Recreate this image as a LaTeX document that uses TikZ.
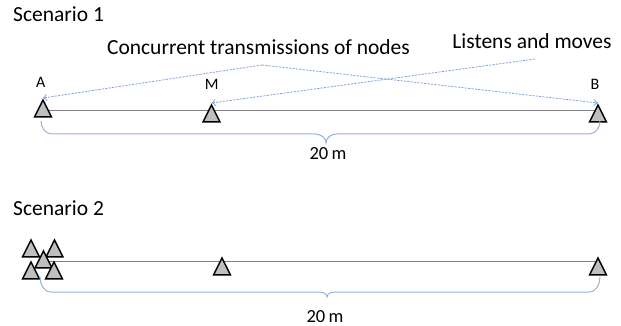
\documentclass[tikz,border=0pt]{standalone}
\usepackage{fontspec}
\setmainfont{Carlito}
\usetikzlibrary{shapes.geometric,arrows.meta}
\definecolor{dashblue}{HTML}{7FA6DA}
\definecolor{braceblue}{HTML}{95B3D7}
\definecolor{trifill}{HTML}{BFBFBF}
\tikzset{
  tri/.style={draw=black, fill=trifill, line width=1.5pt, shape=isosceles triangle,
    isosceles triangle stretches=true, shape border rotate=90,
    minimum width=17pt, minimum height=17pt, inner sep=0pt, anchor=apex},
  baseline/.style={draw=gray, line width=0.9pt},
  dasharrow/.style={draw=dashblue, line width=0.8pt, dash pattern=on 2.2pt off 1.2pt,
    -{To[length=4pt,width=7pt]}},
  bracepath/.style={draw=braceblue, line width=1pt},
  big/.style={font=\fontsize{21.5}{24}\selectfont, inner sep=0pt, anchor=base},
  small/.style={font=\fontsize{16}{18}\selectfont, inner sep=0pt, anchor=base},
  dist/.style={font=\fontsize{18.5}{20}\selectfont, inner sep=0pt, anchor=base},
}
\begin{document}
\begin{tikzpicture}[x=1pt, y=-1pt]
\useasboundingbox (0,0) rectangle (621,326);

% ---------- Scenario 1 ----------
\node[big, anchor=base west] (s1) at (13,22) {Scenario 1};

\coordinate (l1a) at (43,110);
\coordinate (l1b) at (598,110);
\draw[baseline] (l1a) -- (l1b);

\node[tri] (A) at (43,98) {};
\node[tri] (M) at (211.5,103) {};
\node[tri] (B) at (598,103) {};

\node[small] (lA) at (40.7,88) {A};
\node[small] (lM) at (211.7,90) {M};
\node[small] (lB) at (595,90) {B};

\node[big] (conc) at (258.5,55) {Concurrent transmissions of nodes};
\node[big] (lis) at (532,49) {Listens and moves};

\coordinate (peak) at (262,65);
\coordinate (lstart) at (535,59);
\draw[dasharrow] (peak) -- (A.apex);
\draw[dasharrow] (peak) -- (B.apex);
\draw[dasharrow] (lstart) -- (M.apex);

\coordinate (b1l) at (41,121);
\coordinate (b1r) at (600,121);
\coordinate (b1t) at (326,143);
\draw[bracepath] (b1l) to[out=-90,in=180] (52,134) -- (315,134)
   to[out=0,in=90] (b1t) to[out=90,in=180] (337,134) -- (589,134)
   to[out=0,in=-90] (b1r);
\node[dist] (d1) at (328,159) {20\kern0.18em m};

% ---------- Scenario 2 ----------
\node[big, anchor=base west] (s2) at (13,215) {Scenario 2};

\coordinate (l2a) at (43.5,261);
\coordinate (l2b) at (598,261);
\draw[baseline] (l2a) -- (l2b);

\node[tri] (TL) at (31,238) {};
\node[tri] (TR) at (54.5,238) {};
\node[tri] (MC) at (43.5,249) {};
\node[tri] (BL) at (31,260) {};
\node[tri] (BR) at (54,260) {};
\node[tri] (N2) at (222,256) {};
\node[tri] (R2) at (598,256) {};

\coordinate (b2l) at (40,277);
\coordinate (b2r) at (600,277);
\coordinate (b2t) at (327,297);
\draw[bracepath] (b2l) to[out=-90,in=180] (51,292) -- (316,292)
   to[out=0,in=90] (b2t) to[out=90,in=180] (338,292) -- (589,292)
   to[out=0,in=-90] (b2r);
\node[dist] (d2) at (325,322.5) {20\kern0.18em m};
\end{tikzpicture}
\end{document}
